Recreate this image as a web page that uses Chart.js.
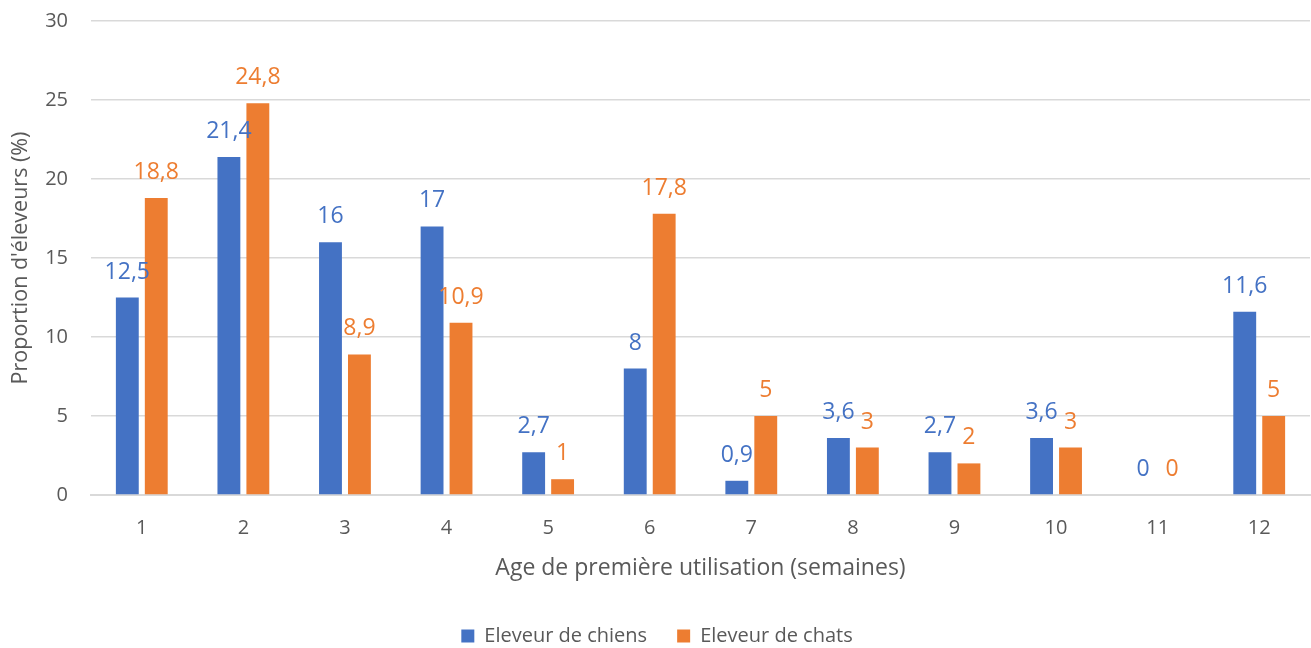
<!DOCTYPE html>
<html lang="fr">
<head>
  <meta charset="UTF-8" />
  <title>Age de première utilisation</title>
  <script src="https://cdn.jsdelivr.net/npm/chart.js"></script>
  <style>
    html, body { margin: 0; padding: 0; background: #fff; }
    #wrap { width: 1311px; height: 648px; }
  </style>
</head>
<body>
  <div id="wrap"><canvas id="chart" width="1311" height="648"></canvas></div>

  <script>
    const weeks = ['1', '2', '3', '4', '5', '6', '7', '8', '9', '10', '11', '12'];
    const chiens = [12.5, 21.4, 16, 17, 2.7, 8, 0.9, 3.6, 2.7, 3.6, 0, 11.6];
    const chats = [18.8, 24.8, 8.9, 10.9, 1, 17.8, 5, 3, 2, 3, 0, 5];
    const yTicks = [0, 5, 10, 15, 20, 25, 30];

    const textColor = '#595959';
    const fontFamily = "'Open Sans', sans-serif";

    // étiquettes de valeurs au-dessus des barres
    const valueLabels = {
      id: 'valueLabels',
      afterDatasetsDraw(chart) {
        const ctx = chart.ctx;
        ctx.save();
        ctx.font = '23px ' + fontFamily;
        ctx.textAlign = 'center';
        ctx.textBaseline = 'alphabetic';
        chart.data.datasets.forEach((ds, i) => {
          const meta = chart.getDatasetMeta(i);
          ctx.fillStyle = ds.backgroundColor;
          meta.data.forEach((bar, j) => {
            const txt = String(ds.data[j]).replace('.', ',');
            ctx.fillText(txt, bar.x, bar.y - 19);
          });
        });
        ctx.restore();
      }
    };

    new Chart(document.getElementById('chart'), {
      type: 'bar',
      data: {
        labels: weeks,
        datasets: [
          { label: 'Eleveur de chiens', data: chiens, backgroundColor: '#4472C4' },
          { label: 'Eleveur de chats', data: chats, backgroundColor: '#ED7D31' }
        ]
      },
      options: {
        responsive: false,
        animation: false,
        layout: { padding: { top: 21, right: 1, left: 4, bottom: -8 } },
        datasets: { bar: { categoryPercentage: 0.57, barPercentage: 0.79 } },
        plugins: {
          legend: {
            position: 'bottom',
            labels: {
              color: textColor,
              font: { family: fontFamily, size: 20 },
              boxWidth: 13,
              boxHeight: 13,
              padding: 30
            }
          },
          tooltip: { enabled: false }
        },
        scales: {
          x: {
            grid: { display: false, drawTicks: false },
            border: { color: '#D9D9D9', width: 2 },
            ticks: { color: textColor, font: { family: fontFamily, size: 20 }, padding: 21 },
            title: {
              display: true,
              text: 'Age de première utilisation (semaines)',
              color: textColor,
              font: { family: fontFamily, size: 23 },
              padding: { top: 4, bottom: 14 }
            },
            afterFit(s) { s.height = 101; }
          },
          y: {
            min: 0,
            max: 30,
            afterBuildTicks(s) { s.ticks = yTicks.map(v => ({ value: v })); },
            grid: { color: '#D9D9D9', lineWidth: 1.5, drawTicks: false },
            border: { display: false },
            ticks: { color: textColor, font: { family: fontFamily, size: 20 }, padding: 23 },
            title: {
              display: true,
              text: "Proportion d'éleveurs (%)",
              color: textColor,
              font: { family: fontFamily, size: 21.5 },
              padding: { bottom: 2 }
            },
            afterFit(s) {
              s.width = 87;
              s.paddingTop = 0;
              s.paddingBottom = 0;
            }
          }
        }
      },
      plugins: [valueLabels]
    });
  </script>
</body>
</html>
